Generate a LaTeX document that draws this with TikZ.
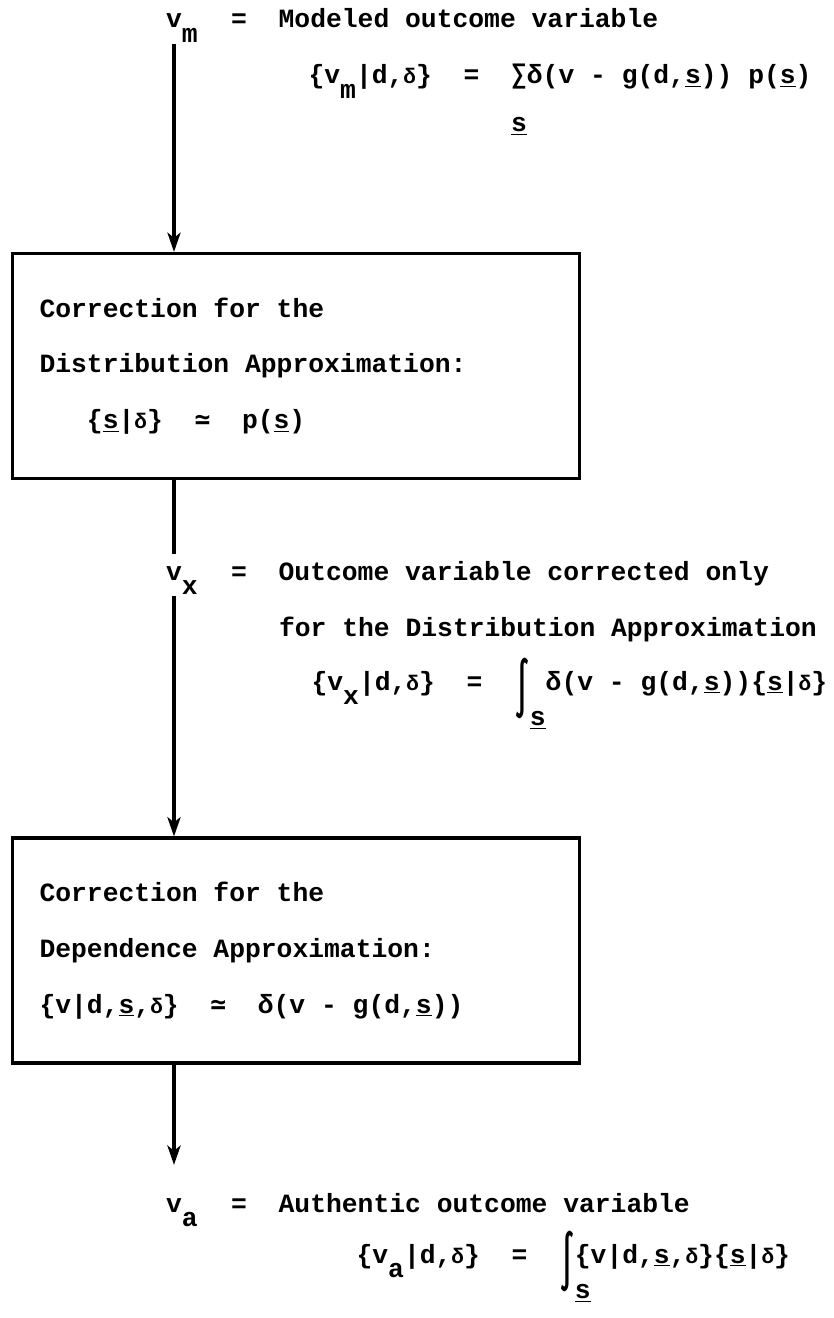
\documentclass[tikz,border=0pt]{standalone}
\usepackage{fontspec}
\usepackage{graphicx}
\setmainfont{Liberation Mono}
\newfontfamily\symfont{DejaVu Sans Mono}
\usetikzlibrary{arrows.meta,positioning}

% typewriter half-line subscript and limits set below a symbol
\newcommand{\lowered}[1]{\raisebox{-8pt}{#1}}
\newcommand{\belowlim}[2]{\rlap{\raisebox{-#1}{#2}}}
\newcommand{\svec}{\underline{s}}
\newcommand{\stinfo}{{\fontsize{12}{12}\selectfont δ}}
\newcommand{\sumsym}{{\symfont ∑}}
\newcommand{\approxsym}{{\symfont ≃}}
\newcommand{\tallint}{\raisebox{-10pt}{\scalebox{1}[2.1]{\symfont ∫}}}
\newcommand{\fixedspaces}{\spaceskip=\fontdimen2\font\xspaceskip=\fontdimen2\font\relax}

\tikzset{
  txt/.style={inner sep=0pt, anchor=base west},
  var/.style={inner sep=0pt, anchor=base},
  corrbox/.style={draw, line width=1.8pt, minimum width=11.34cm, minimum height=4.5cm,
    text width=10.26cm, inner xsep=0.54cm, align=left},
  flow/.style={->, line width=1.8pt},
}

\begin{document}
\begin{tikzpicture}[x=0.02cm, y=-0.02cm, >={Stealth[length=11pt,width=7.5pt,inset=3pt]},
    font=\fontsize{15}{31.7}\selectfont\bfseries, line width=1.8pt]
  \useasboundingbox (0,0) rectangle (833,1318);

  % Modeled outcome variable
  \node[var] (vm) at (174,28) {v\rlap{\lowered{m}}};
  \node[txt] (vmdef) at (198,28) {~~=~~Modeled outcome variable};
  \node[txt] (vmdist) at (307,84) {\{v\lowered{m}|d,\stinfo\}~~=~~\belowlim{27pt}{\svec}\sumsym δ(v - g(d,\svec)) p(\svec)};

  % The two correction steps
  \node[corrbox] (box1) at (296,366) {\fixedspaces Correction for the\\Distribution Approximation:\\\hspace*{27pt}\{\svec|\stinfo\}~~\approxsym~~p(\svec)};
  \node[corrbox] (box2) at (296,950.5) {\fixedspaces Correction for the\\Dependence Approximation:\\\{v|d,\svec,\stinfo\}~~\approxsym~~δ(v - g(d,\svec))};

  % Partly corrected outcome variable
  \node[var] (vx) at (174,580) {v\rlap{\lowered{x}}};
  \node[txt] (vxdef) at (198,580) {~~=~~Outcome variable corrected only};
  \node[txt] (vxfor) at (277.5,636) {for the Distribution Approximation};
  \node[txt] (vxdist) at (310,690) {\{v\lowered{x}|d,\stinfo\}~~=~~\tallint\belowlim{20pt}{\svec}~δ(v - g(d,\svec))\{\svec|\stinfo\}};

  % Authentic outcome variable
  \node[var] (va) at (174,1212) {v\rlap{\lowered{a}}};
  \node[txt] (vadef) at (198,1212) {~~=~~Authentic outcome variable};
  \node[txt] (vadist) at (355,1263) {\{v\lowered{a}|d,\stinfo\}~~=~~\tallint\belowlim{20pt}{\svec}\{v|d,\svec,\stinfo\}\{\svec|\stinfo\}};

  % Flow lines
  \draw[flow] (vm.south) -- (vm.south |- box1.north);
  \draw[shorten >=6pt] (vx |- box1.south) -- (vx.north);
  \draw[flow] (vx.south) -- (vx.south |- box2.north);
  \draw[flow, shorten >=18pt] (va |- box2.south) -- (va.north);
\end{tikzpicture}
\end{document}
